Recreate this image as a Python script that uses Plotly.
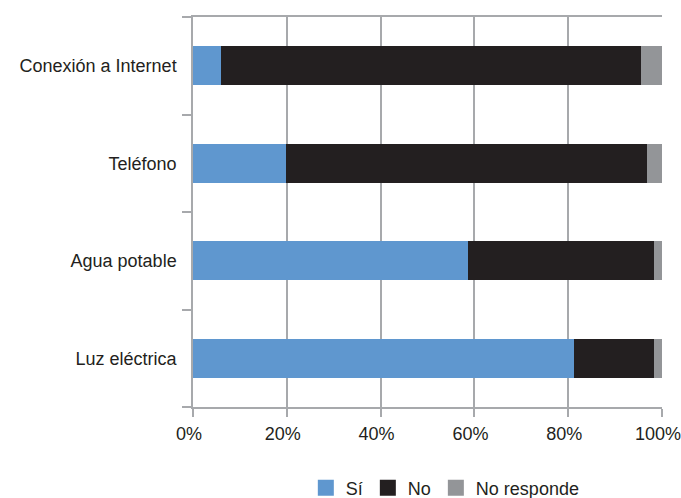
import plotly.graph_objects as go

# Service categories (bottom to top in the chart)
categories = ["Luz eléctrica", "Agua potable", "Teléfono", "Conexión a Internet"]

# Share of households (%) per answer
si = [81.3, 58.6, 19.9, 6.0]
no = [16.9, 39.6, 76.8, 89.6]
no_responde = [1.8, 1.8, 3.3, 4.4]

x_ticks = [0, 20, 40, 60, 80, 100]
x_tick_labels = ["0%", "20%", "40%", "60%", "80%", "100%"]

series = [
    ("Sí", si, "#5f97cf"),
    ("No", no, "#231f20"),
    ("No responde", no_responde, "#939598"),
]

font_family = "Liberation Sans, Arial, sans-serif"
font_size = 18
grid_color = "#a7a9ac"

fig = go.Figure()
for name, values, color in series:
    fig.add_trace(go.Bar(
        y=categories, x=values, name=name, orientation="h",
        marker=dict(color=color, line=dict(width=0)),
        showlegend=False,
    ))

# Legend entries drawn as larger square swatches
for name, _, color in series:
    fig.add_trace(go.Scatter(
        x=[None], y=[None], mode="markers", name=name,
        marker=dict(symbol="square", size=16, color=color),
    ))

fig.update_layout(
    barmode="stack",
    bargap=0.6,
    width=681, height=498,
    margin=dict(l=193, r=19, t=17, b=91, autoexpand=False),
    paper_bgcolor="white",
    plot_bgcolor="white",
    font=dict(family=font_family, size=font_size, color="#231f20"),
    legend=dict(
        orientation="h", x=0.538, xanchor="center",
        yref="container", y=0.02, yanchor="middle",
        font=dict(size=font_size), itemsizing="trace", traceorder="normal",
        itemwidth=30, tracegroupgap=0,
    ),
)

fig.update_xaxes(
    range=[0, 100], tickvals=x_ticks, ticktext=x_tick_labels,
    showgrid=True, gridcolor=grid_color, gridwidth=1.5,
    zeroline=False, automargin=False,
    showline=True, linecolor=grid_color, linewidth=1.5, mirror=True,
    ticks="outside", ticklen=8, tickcolor=grid_color, tickwidth=1.5,
    ticklabelstandoff=2, ticklabelshift=-4, ticklabeloverflow="allow",
    tickfont=dict(size=font_size), fixedrange=True,
)

fig.update_yaxes(
    categoryorder="array", categoryarray=categories,
    showgrid=False, zeroline=False, automargin=False,
    showline=True, linecolor=grid_color, linewidth=1.5,
    ticks="outside", tickson="boundaries", ticklen=9,
    tickcolor=grid_color, tickwidth=1.5,
    ticklabelstandoff=11,
    tickfont=dict(size=font_size),
)

fig.write_html("out.html")
